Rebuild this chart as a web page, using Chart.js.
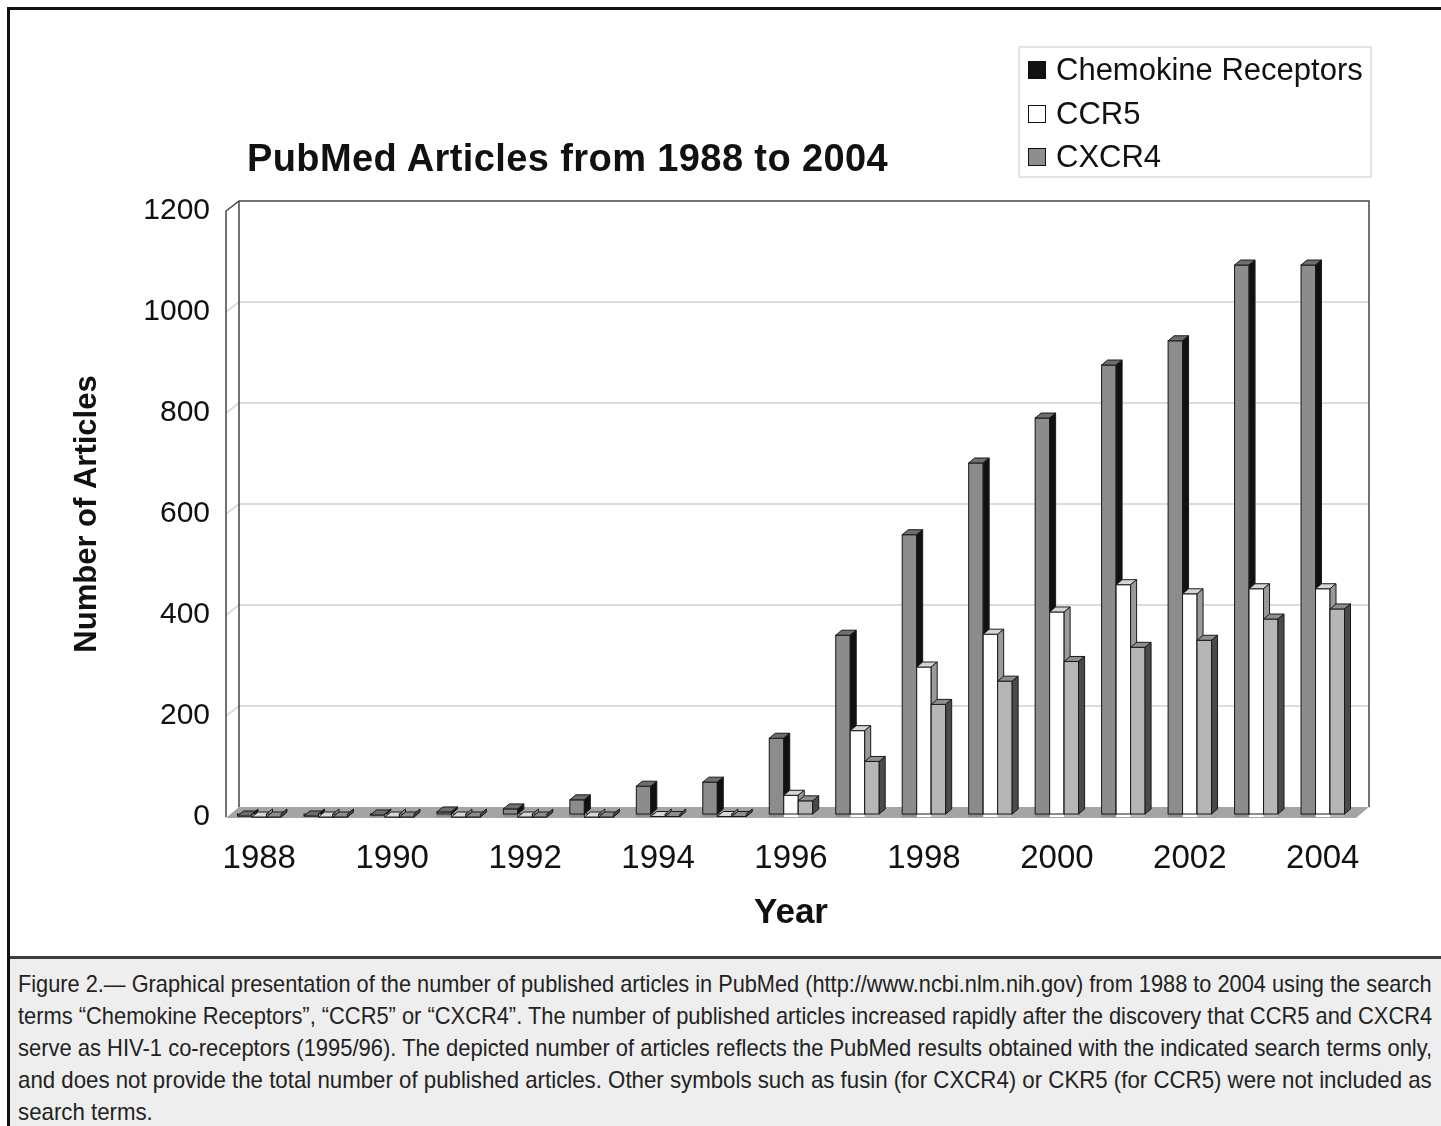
<!DOCTYPE html>
<html>
<head>
<meta charset="utf-8">
<script src="https://cdn.jsdelivr.net/npm/chart.js@4.4.0/dist/chart.umd.min.js"></script>
<style>
body { margin: 0; background: #fff; }
#page { position: relative; width: 1441px; height: 1126px; overflow: hidden; font-family: "Liberation Sans", Arial, sans-serif; color: #111; }
#frame { position: absolute; left: 7px; top: 7px; width: 1440px; height: 1130px; border-left: 3px solid #111; border-top: 3px solid #111; }
#chart { position: absolute; left: 0; top: 0; }
#title { position: absolute; left: 247px; top: 136px; font-size: 38px; line-height: 44px; font-weight: bold; letter-spacing: 0.4px; white-space: nowrap; }
#legend { position: absolute; left: 1018px; top: 46px; width: 354px; height: 132px; border: 2px solid #e4e4e4; box-sizing: border-box; }
.item { position: absolute; left: 36px; font-size: 31px; line-height: 34px; white-space: nowrap; }
.sw { position: absolute; left: -28px; top: 8px; width: 18px; height: 18px; box-sizing: border-box; border: 1.5px solid #111; }
#caption { position: absolute; left: 10px; top: 956px; width: 1431px; height: 170px; background: #eeeeee; border-top: 3px solid #3c3c3c; box-sizing: border-box; padding: 9px 8px 0 8px; font-size: 24px; color: #222; }
.line { height: 32px; line-height: 32px; white-space: nowrap; }
.line span { display: inline-block; transform-origin: 0 50%; }
</style>
</head>
<body>
<div id="page">
  <div id="frame"></div>
  <canvas id="chart" width="1441" height="1126"></canvas>
  <div id="title">PubMed Articles from 1988 to 2004</div>
  <div id="legend">
    <div class="item" style="top:5px"><span class="sw" style="background:#111"></span>Chemokine Receptors</div>
    <div class="item" style="top:49px"><span class="sw" style="background:#fff"></span>CCR5</div>
    <div class="item" style="top:92px"><span class="sw" style="background:#8e8e8e"></span>CXCR4</div>
  </div>
  <div id="caption">
    <div class="line"><span>Figure 2.— Graphical presentation of the number of published articles in PubMed (http://www.ncbi.nlm.nih.gov) from 1988 to 2004 using the search</span></div>
    <div class="line"><span>terms “Chemokine Receptors”, “CCR5” or “CXCR4”. The number of published articles increased rapidly after the discovery that CCR5 and CXCR4</span></div>
    <div class="line"><span>serve as HIV-1 co-receptors (1995/96). The depicted number of articles reflects the PubMed results obtained with the indicated search terms only,</span></div>
    <div class="line"><span>and does not provide the total number of published articles. Other symbols such as fusin (for CXCR4) or CKR5 (for CCR5) were not included as</span></div>
    <div class="line last"><span>search terms.</span></div>
  </div>
</div>
<script>
const years = ['1988', '1989', '1990', '1991', '1992', '1993', '1994', '1995', '1996',
  '1997', '1998', '1999', '2000', '2001', '2002', '2003', '2004'];
const chemokine = [2, 2, 4, 10, 16, 34, 61, 69, 156, 360, 559, 701, 790, 895, 943, 1093, 1093];
const ccr5 = [0, 0, 0, 0, 0, 0, 1, 1, 43, 171, 297, 362, 406, 460, 442, 452, 452];
const cxcr4 = [0, 0, 0, 0, 0, 0, 1, 1, 32, 110, 223, 269, 308, 336, 350, 392, 412];
const yTicks = [0, 200, 400, 600, 800, 1000, 1200];

const FONT = '"Liberation Sans", Arial, sans-serif';
// colours: front, top, side
const faces = [
  ['#8c8c8c', '#6e6e6e', '#111111'],
  ['#ffffff', '#d6d6d6', '#9a9a9a'],
  ['#b6b6b6', '#8e8e8e', '#4a4a4a']
];
const WX = 13, WY = 10;  // depth of walls
const BX = 6, BY = 5;    // depth of bars

// walls, floor and back gridlines (excel-like 3d box)
const box3d = {
  id: 'box3d',
  beforeDatasetsDraw(chart) {
    const ctx = chart.ctx;
    const a = chart.chartArea;
    const y = chart.scales.y;
    ctx.save();
    ctx.strokeStyle = '#dcdcdc';
    ctx.lineWidth = 2;
    yTicks.forEach(v => {
      if (v === 0 || v === 1200) return;
      const py = y.getPixelForValue(v);
      ctx.beginPath();
      ctx.moveTo(a.left, py);
      ctx.lineTo(a.left + WX, py - WY);
      ctx.lineTo(a.right + WX, py - WY);
      ctx.stroke();
    });
    // floor
    ctx.fillStyle = '#a4a4a4';
    ctx.beginPath();
    ctx.moveTo(a.left, a.bottom + 1);
    ctx.lineTo(a.right, a.bottom + 1);
    ctx.lineTo(a.right + WX, a.bottom - WY);
    ctx.lineTo(a.left + WX, a.bottom - WY);
    ctx.closePath();
    ctx.fill();
    // frame lines
    ctx.strokeStyle = '#444';
    ctx.lineWidth = 1.5;
    ctx.beginPath();
    ctx.moveTo(a.left, a.bottom);
    ctx.lineTo(a.left, a.top);
    ctx.lineTo(a.left + WX, a.top - WY);
    ctx.lineTo(a.right + WX, a.top - WY);
    ctx.lineTo(a.right + WX, a.bottom - WY);
    ctx.moveTo(a.left + WX, a.top - WY);
    ctx.lineTo(a.left + WX, a.bottom - WY);
    ctx.stroke();
    ctx.restore();
  },
  afterDatasetsDraw(chart) {
    const ctx = chart.ctx;
    const metas = [0, 1, 2].map(i => chart.getDatasetMeta(i));
    ctx.save();
    ctx.strokeStyle = '#1a1a1a';
    ctx.lineWidth = 1;
    for (let i = 0; i < years.length; i++) {
      for (let d = 0; d < 3; d++) {
        const el = metas[d].data[i];
        const p = el.getProps(['x', 'y', 'base', 'width'], true);
        const l = p.x - p.width / 2, r = p.x + p.width / 2;
        const top = p.y, base = p.base - 3;
        ctx.fillStyle = faces[d][0];
        ctx.fillRect(l, top, p.width, base - top);
        ctx.strokeRect(l, top, p.width, base - top);
        ctx.fillStyle = faces[d][1];
        ctx.beginPath();
        ctx.moveTo(l, top);
        ctx.lineTo(l + BX, top - BY);
        ctx.lineTo(r + BX, top - BY);
        ctx.lineTo(r, top);
        ctx.closePath();
        ctx.fill();
        ctx.stroke();
        ctx.fillStyle = faces[d][2];
        ctx.beginPath();
        ctx.moveTo(r, top);
        ctx.lineTo(r + BX, top - BY);
        ctx.lineTo(r + BX, base - BY);
        ctx.lineTo(r, base);
        ctx.closePath();
        ctx.fill();
        ctx.stroke();
      }
    }
    ctx.restore();
  }
};

const chart = new Chart(document.getElementById('chart'), {
  type: 'bar',
  data: {
    labels: years,
    datasets: [
      { label: 'Chemokine Receptors', data: chemokine, backgroundColor: faces[0][0] },
      { label: 'CCR5', data: ccr5, backgroundColor: faces[1][0] },
      { label: 'CXCR4', data: cxcr4, backgroundColor: faces[2][0] }
    ]
  },
  options: {
    responsive: false,
    animation: false,
    categoryPercentage: 0.654,
    barPercentage: 1.0,
    layout: { autoPadding: false, padding: { left: 60, right: 85, top: 211, bottom: 176 } },
    plugins: { legend: { display: false }, tooltip: { enabled: false } },
    scales: {
      x: {
        grid: { display: false, drawTicks: false },
        border: { display: false },
        ticks: {
          autoSkip: false, maxRotation: 0, padding: 22, color: '#111',
          font: { family: FONT, size: 33 },
          callback: (v, i) => (i % 2 === 0 ? years[i] : '')
        },
        title: { display: true, text: 'Year', color: '#111', font: { family: FONT, size: 35, weight: 'bold' }, padding: { top: 0, bottom: 16 } },
        afterFit: s => { s.height = 133; }
      },
      y: {
        min: 0, max: 1200,
        grid: { display: false, drawTicks: false },
        border: { display: false },
        ticks: { stepSize: 200, padding: 16, color: '#111', font: { family: FONT, size: 30 }, callback: v => String(v) },
        title: { display: true, text: 'Number of Articles', color: '#111', font: { family: FONT, size: 31, weight: 'bold' }, padding: { top: 9, bottom: 0 } },
        afterFit: s => { s.width = 166; }
      }
    }
  },
  plugins: [box3d]
});

// squeeze caption lines to the box width (condensed face of the original)
const spans = document.querySelectorAll('#caption .line span');
let k = 1;
spans.forEach((s, i) => {
  if (i < spans.length - 1) {
    k = 1414 / s.offsetWidth;
  }
  s.style.transform = 'scaleX(' + k + ')';
});
</script>
</body>
</html>
